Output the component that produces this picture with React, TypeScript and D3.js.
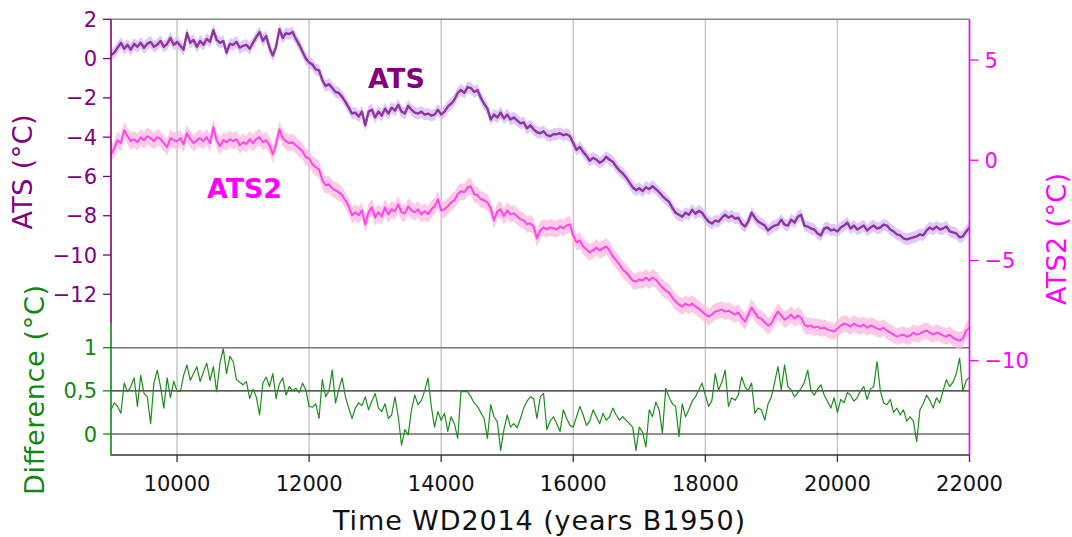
import React from "react";
import * as d3 from "d3";

const START_YEAR = 9000;
const STEP_YEARS = 50;

const ATS = [
  0.18, 0.3, 0.55, 0.8, 0.5, 0.7, 0.45, 0.75, 0.6, 0.8,
  0.55, 0.75, 0.85, 0.6, 0.7, 0.9, 0.6, 0.75, 1.05, 0.7,
  0.85, 0.65, 0.45, 1.3, 0.8, 0.95, 0.6, 0.9, 0.7, 1.0,
  0.85, 1.45, 0.95, 0.8, 0.9, 0.3, 0.75, 0.7, 0.85, 0.55,
  0.65, 0.7, 0.5, 0.8, 1.1, 1.35, 0.9, 1.15, 0.55, 0.15,
  0.6, 1.5, 1.05, 1.3, 1.25, 1.35, 1.0, 0.7, 0.35, 0.0,
  -0.2, -0.3, -0.55, -0.6, -1.1, -1.4, -1.3, -1.5, -1.7, -1.75,
  -1.95, -2.2, -2.5, -2.8, -2.75, -2.95, -2.7, -3.4, -2.7, -2.6,
  -3.0, -2.7, -2.9, -2.55, -2.8, -2.5, -2.65, -2.35, -2.7, -2.8,
  -2.4, -2.6, -2.75, -2.8, -2.7, -2.85, -2.8, -2.9, -2.85, -2.6,
  -2.85, -2.7, -2.45, -2.3, -2.1, -1.75, -1.6, -1.75, -1.45, -1.5,
  -1.7, -1.6, -2.0, -2.3, -2.55, -3.1, -2.85, -3.0, -2.75, -3.05,
  -2.85, -3.1, -3.0, -3.15, -3.3, -3.25, -3.55, -3.4, -3.6, -3.75,
  -3.8, -3.7, -3.9, -3.95, -3.85, -3.85, -3.8, -3.9, -3.85, -3.95,
  -4.3, -4.65, -4.5, -4.75, -4.95, -5.2, -5.05, -5.15, -5.3, -5.2,
  -5.0, -5.15, -5.25, -5.5, -5.7, -5.85, -6.05, -6.3, -6.55, -6.7,
  -6.6, -6.75, -6.55, -6.65, -6.5, -6.65, -6.8, -7.0, -7.15, -7.3,
  -7.6, -7.85, -7.95, -8.05, -7.85, -7.95, -7.7, -7.9, -7.75, -7.85,
  -8.1, -8.3, -8.4, -8.25, -8.3, -8.1, -7.95, -8.1, -8.0, -8.15,
  -8.1, -8.4, -8.55, -8.3, -7.85, -8.1, -8.3, -8.4, -8.5, -8.75,
  -8.6, -8.5, -8.45, -8.2, -8.45, -8.5, -8.2, -8.35, -8.05, -7.95,
  -8.5, -8.55, -8.65, -8.7, -8.9, -9.0, -8.65, -8.6, -8.75, -8.7,
  -8.8, -8.6, -8.5, -8.35, -8.65, -8.5, -8.7, -8.6, -8.5, -8.75,
  -8.6, -8.5, -8.65, -8.6, -8.45, -8.5, -8.7, -8.8, -8.95, -9.0,
  -9.15, -9.2, -9.15, -9.1, -9.05, -8.95, -9.0, -8.75, -8.6, -8.7,
  -8.55, -8.7, -8.65, -8.55, -8.8, -8.85, -8.9, -9.1, -9.05, -8.8,
  -8.6,
];

const ATS2 = [
  0.28, 0.6, 1.0, 0.85, 1.5, 1.2, 0.95, 1.05, 0.9, 1.15,
  1.0, 1.2, 1.1, 0.95, 1.15, 1.05, 0.85, 0.65, 1.1, 1.0,
  0.95, 1.1, 0.8, 1.35, 1.05, 0.85, 1.0, 1.1, 0.95, 1.15,
  0.85, 1.65, 1.0, 0.7, 1.0, 0.9, 1.05, 0.95, 1.05, 0.75,
  0.9, 0.8, 1.05, 0.85, 1.05, 1.15, 0.9, 1.0, 0.75, 0.3,
  0.8, 1.55, 1.1, 0.95, 0.85, 0.9, 0.75, 0.6, 0.45, 0.15,
  0.1, -0.2, -0.35, -0.45, -1.0, -1.25, -1.2, -1.4, -1.5, -1.6,
  -1.75, -2.0, -2.3, -2.75, -2.6, -2.75, -2.5, -3.2, -2.6, -2.35,
  -2.85, -2.6, -2.8, -2.35, -2.7, -2.45, -2.55, -2.2, -2.6, -2.65,
  -2.3, -2.5, -2.6, -2.45, -2.7, -2.55, -2.7, -2.45, -2.3, -1.95,
  -2.5, -2.45, -2.3, -2.1, -2.0, -1.7, -1.55, -1.6, -1.35, -1.3,
  -1.7, -1.75, -1.95, -2.0, -2.1, -2.4, -3.0, -2.55, -2.45, -2.8,
  -2.5, -2.7, -2.65, -2.8, -2.95, -3.0, -3.2, -3.15, -3.3, -3.9,
  -3.5, -3.35, -3.45, -3.35, -3.4, -3.45, -3.3, -3.4, -3.25, -3.2,
  -3.75, -4.1, -4.0, -4.3, -4.45, -4.6, -4.5, -4.35, -4.5, -4.4,
  -4.3, -4.5, -4.8, -5.0, -5.2, -5.45, -5.6, -5.8, -6.0, -6.05,
  -5.95, -6.0, -5.85, -6.0, -5.85, -5.95, -6.15, -6.35, -6.5, -6.6,
  -6.85, -7.05, -7.2, -7.3, -7.15, -7.25, -7.15, -7.3, -7.4, -7.55,
  -7.7, -7.8, -7.7, -7.55, -7.5, -7.45, -7.55, -7.5, -7.6, -7.7,
  -7.6, -7.85, -8.05, -7.7, -7.35, -7.6, -7.85, -7.9, -8.1, -8.25,
  -8.15, -7.8, -7.55, -7.75, -7.95, -7.85, -7.7, -7.9, -7.75, -7.85,
  -8.2, -8.3, -8.25, -8.35, -8.3, -8.4, -8.35, -8.45, -8.5, -8.55,
  -8.4, -8.25, -8.15, -8.2, -8.3, -8.15, -8.25, -8.3, -8.2, -8.35,
  -8.25, -8.3, -8.4, -8.45, -8.35, -8.5, -8.6, -8.7, -8.8, -8.75,
  -8.7, -8.8, -8.75, -8.6, -8.7, -8.65, -8.55, -8.5, -8.6, -8.7,
  -8.6, -8.65, -8.75, -8.8, -8.7, -8.85, -8.95, -9.0, -8.9, -8.5,
  -8.35,
];

const DIFFERENCE = [
  0.28, 0.36, 0.32, 0.24, 0.59, 0.49, 0.55, 0.65, 0.32, 0.68,
  0.47, 0.43, 0.12, 0.59, 0.74, 0.55, 0.3, 0.65, 0.42, 0.61,
  0.5, 0.49, 0.68, 0.8, 0.62, 0.7, 0.78, 0.61, 0.72, 0.82,
  0.62, 0.78, 0.49, 0.82, 0.99, 0.7, 0.9, 0.84, 0.63, 0.6,
  0.57, 0.61, 0.41, 0.52, 0.43, 0.22, 0.59, 0.66, 0.55, 0.7,
  0.41, 0.58, 0.65, 0.45, 0.55, 0.5, 0.53, 0.48, 0.59, 0.51,
  0.32, 0.31, 0.35, 0.18, 0.63, 0.43, 0.5, 0.74, 0.36, 0.52,
  0.65, 0.43, 0.3, 0.18, 0.3, 0.36, 0.33, 0.43, 0.28, 0.38,
  0.47, 0.3, 0.26, 0.35, 0.18, 0.22, 0.43, 0.2, -0.13, 0.05,
  -0.01, 0.28, 0.45, 0.34, 0.39, 0.5, 0.65, 0.32, 0.08, 0.26,
  0.16, 0.24, 0.03, 0.2, 0.12, -0.05, 0.49, 0.49, 0.49, 0.43,
  0.36, 0.32, 0.25, 0.18, -0.05, 0.34, 0.2, 0.14, -0.19, 0.05,
  0.22, 0.08, 0.12, 0.07, 0.18, 0.3, 0.38, 0.43, 0.41, 0.18,
  0.43, 0.47, 0.05, 0.15, 0.2, 0.12, 0.03, 0.28, 0.18, 0.1,
  0.08, 0.2, 0.32, 0.22, 0.1, 0.15, 0.28, 0.2, 0.12, 0.24,
  0.16, 0.2, 0.3, 0.22, 0.16, 0.2, 0.16, 0.12, 0.08, -0.19,
  0.08, 0.02, -0.15, 0.28, 0.2, 0.37, 0.28, 0.01, 0.53, 0.43,
  0.35, 0.32, -0.03, 0.35, 0.2, 0.28, 0.38, 0.43, 0.51, 0.59,
  0.45, 0.32, 0.39, 0.7, 0.51, 0.6, 0.74, 0.32, 0.42, 0.39,
  0.45, 0.66, 0.55, 0.5, 0.59, 0.24, 0.3, 0.28, 0.16, 0.35,
  0.43, 0.6, 0.78, 0.51, 0.8, 0.55, 0.51, 0.43, 0.48, 0.53,
  0.6, 0.74, 0.5, 0.45, 0.52, 0.57, 0.45, 0.38, 0.3, 0.42,
  0.25, 0.4, 0.36, 0.48, 0.45, 0.38, 0.42, 0.5, 0.55, 0.4,
  0.52, 0.55, 0.84, 0.5, 0.36, 0.34, 0.4, 0.25, 0.3, 0.22,
  0.28, 0.15, 0.2, 0.15, -0.09, 0.28, 0.35, 0.45, 0.39, 0.3,
  0.42, 0.36, 0.5, 0.63, 0.55, 0.6, 0.7, 0.88, 0.5, 0.62,
  0.66,
];

const ATS_UNCERTAINTY = 0.3;
const ATS2_UNCERTAINTY = 0.42;

const X_TICKS = [10000, 12000, 14000, 16000, 18000, 20000, 22000];
const ATS_TICKS = [2, 0, -2, -4, -6, -8, -10, -12];
const ATS2_TICKS = [5, 0, -5, -10];
const DIFF_TICKS = [1, 0.5, 0];

const fmtNum = (v: number) => String(v).replace("-", "\u2212").replace(".", ",");

export default function App() {
  const W = 1072, H = 537;
  const left = 111, right = 969.5, top = 19.3, bottom = 455;
  const x = d3.scaleLinear().domain([9000, 22000]).range([left, right]);
  const yA = d3.scaleLinear().domain([2, -12]).range([19.3, 294.3]);
  const yB = d3.scaleLinear().domain([5, -10]).range([60, 360.7]);
  const yD = d3.scaleLinear().domain([1, 0]).range([347.7, 434]);
  const yr = (i: number) => START_YEAR + i * STEP_YEARS;

  const lineA = d3.line<number>().x((_, i) => x(yr(i))).y((d) => yA(d));
  const lineB = d3.line<number>().x((_, i) => x(yr(i))).y((d) => yB(d));
  const lineD = d3.line<number>().x((_, i) => x(yr(i))).y((d) => yD(d));
  const areaA = d3.area<number>().x((_, i) => x(yr(i))).y0((d) => yA(d - ATS_UNCERTAINTY)).y1((d) => yA(d + ATS_UNCERTAINTY));
  const areaB = d3.area<number>().x((_, i) => x(yr(i))).y0((d) => yB(d - ATS2_UNCERTAINTY)).y1((d) => yB(d + ATS2_UNCERTAINTY));

  const purple = "#800080";
  const magenta = "#ff00ff";
  const green = "#118811";
  const font = "DejaVu Sans, Verdana, sans-serif";
  const splitY = 323;

  return (
    <svg width={W} height={H} style={{ position: "absolute", left: 0, top: 0, background: "#fff" }} fontFamily={font}>
      <defs>
        <clipPath id="plotclip">
          <rect x={left} y={top} width={right - left} height={bottom - top} />
        </clipPath>
      </defs>
      {/* vertical grid */}
      {X_TICKS.map((t) => (
        <line key={"g" + t} x1={x(t)} x2={x(t)} y1={top} y2={bottom} stroke="#c8c8c8" strokeWidth={1.5} />
      ))}
      {/* difference horizontal lines */}
      <line x1={left} x2={right} y1={yD(1)} y2={yD(1)} stroke="#777" strokeWidth={1.5} />
      <line x1={left} x2={right} y1={yD(0.5)} y2={yD(0.5)} stroke="#222" strokeWidth={1.1} />
      <line x1={left} x2={right} y1={yD(0)} y2={yD(0)} stroke="#222" strokeWidth={1.1} />

      <g clipPath="url(#plotclip)">
        <path d={areaB(ATS2) || ""} fill="#ffb8e0" opacity={0.75} />
        <path d={areaA(ATS) || ""} fill="#d8bcf6" opacity={0.8} />
        <path d={lineB(ATS2) || ""} fill="none" stroke="#ff44e6" strokeWidth={2} strokeLinejoin="round" />
        <path d={lineA(ATS) || ""} fill="none" stroke="#8e35a0" strokeWidth={2.4} strokeLinejoin="round" />
        <path d={lineD(DIFFERENCE) || ""} fill="none" stroke="#1f8a1f" strokeWidth={1.2} strokeLinejoin="round" />
      </g>

      {/* frame */}
      <line x1={left} x2={right} y1={top} y2={top} stroke="#888" strokeWidth={1.6} />
      <line x1={left - 0.5} x2={right} y1={bottom} y2={bottom} stroke="#333" strokeWidth={1.6} />
      <line x1={left} x2={left} y1={top} y2={splitY} stroke={purple} strokeWidth={1.6} />
      <line x1={left} x2={left} y1={splitY} y2={bottom} stroke={green} strokeWidth={1.6} />
      <line x1={right} x2={right} y1={top} y2={bottom} stroke={magenta} strokeWidth={1.6} />

      {/* left ATS axis */}
      {ATS_TICKS.map((t) => (
        <g key={"a" + t}>
          <line x1={left - 8} x2={left} y1={yA(t)} y2={yA(t)} stroke={purple} strokeWidth={1.3} />
          <text x={left - 14} y={yA(t)} dy="0.36em" textAnchor="end" fontSize={21} fill={purple}>{fmtNum(t)}</text>
        </g>
      ))}
      {/* difference axis */}
      {DIFF_TICKS.map((t) => (
        <g key={"d" + t}>
          <line x1={left - 8} x2={left} y1={yD(t)} y2={yD(t)} stroke={green} strokeWidth={1.3} />
          <text x={left - 14} y={yD(t)} dy="0.36em" textAnchor="end" fontSize={21} fill={green}>{fmtNum(t)}</text>
        </g>
      ))}
      {/* right ATS2 axis */}
      {ATS2_TICKS.map((t) => (
        <g key={"b" + t}>
          <line x1={right} x2={right + 9} y1={yB(t)} y2={yB(t)} stroke={magenta} strokeWidth={1.3} />
          <text x={right + 15} y={yB(t)} dy="0.36em" textAnchor="start" fontSize={21} fill={magenta}>{fmtNum(t)}</text>
        </g>
      ))}
      {/* bottom axis */}
      {X_TICKS.map((t) => (
        <g key={"x" + t}>
          <line x1={x(t)} x2={x(t)} y1={bottom} y2={bottom + 7} stroke="#333" strokeWidth={1.3} />
          <text x={x(t)} y={491} textAnchor="middle" fontSize={21} fill="#111">{t}</text>
        </g>
      ))}

      {/* axis titles */}
      <text x={539} y={530} textAnchor="middle" fontSize={27} fill="#111" textLength={412} lengthAdjust="spacing">Time WD2014 (years B1950)</text>
      <text transform="translate(32,172) rotate(-90)" textAnchor="middle" fontSize={27} fill={purple} textLength={115} lengthAdjust="spacing">ATS (°C)</text>
      <text transform="translate(44,390) rotate(-90)" textAnchor="middle" fontSize={27} fill={green} textLength={210} lengthAdjust="spacing">Difference (°C)</text>
      <text transform="translate(1066,239) rotate(-90)" textAnchor="middle" fontSize={27} fill={magenta} textLength={132} lengthAdjust="spacing">ATS2 (°C)</text>

      {/* series labels */}
      <text x={368} y={88} fontSize={27} fontWeight="bold" fill={purple} textLength={57} lengthAdjust="spacing">ATS</text>
      <text x={207} y={198} fontSize={27} fontWeight="bold" fill={magenta} textLength={75} lengthAdjust="spacing">ATS2</text>
    </svg>
  );
}
